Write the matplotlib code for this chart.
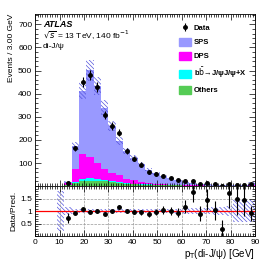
import matplotlib
matplotlib.use("Agg")
import matplotlib.pyplot as plt
import matplotlib.patches as mpatches
from matplotlib.ticker import MultipleLocator, FixedLocator
import numpy as np

# binning: 3 GeV bins from 0 to 90
edges = np.arange(0, 93, 3)
centers = edges[:-1] + 1.5

others = [0, 0, 0, 0.2, 3, 12, 22, 24, 22, 20, 17, 14, 11, 9, 7, 6, 5, 4, 3, 3,
          2, 2, 1.5, 1.2, 1, 1, 0.8, 0.7, 0.6, 1]
bbbar = [0, 0, 0, 0.1, 1, 6, 10, 11, 9, 7, 6, 4, 3, 2, 2, 1.5, 1, 1, 0.8, 0.6,
         0.5, 0.4, 0.3, 0.3, 0.2, 0.2, 0.2, 0.2, 0.1, 0.3]
dps = [0, 0, 0, 0.2, 10, 58, 106, 92, 68, 45, 35, 28, 18, 14, 10, 7, 5, 4, 3, 2.5,
       2, 1.5, 1.2, 1, 0.8, 0.7, 0.6, 0.5, 0.5, 1.5]
sps = [0, 0, 0, 0.1, 4, 98, 275, 375, 336, 268, 202, 150, 120, 98, 78, 55.5, 44, 34,
       26.2, 19.9, 14.5, 8.1, 7, 5.5, 5, 4.1, 3.4, 2.6, 2.8, 8.2]
data = [np.nan, np.nan, np.nan, np.nan, 13, 163, 450, 482, 430, 306, 260, 231, 152,
        118, 93, 61, 53, 45, 33, 24.5, 22.4, 21, 9, 11.7, 7.2, 1.6, 8.6, 6, 5.7, 10]
data_err = [0, 0, 0, 0, 3.6, 12.8, 21.2, 22, 20.7, 17.5, 16.1, 15.2, 12.3, 10.9,
            9.6, 7.8, 7.3, 6.7, 5.7, 5, 4.7, 4.6, 3, 3.4, 2.7, 2.3, 2.9, 2.6, 2.5, 3.2]
# relative uncertainty of the prediction
rel_unc = [0, 0, 0, 0.8, 0.15, 0.1, 0.09, 0.09, 0.09, 0.09, 0.09, 0.09, 0.09, 0.09,
           0.09, 0.09, 0.09, 0.09, 0.09, 0.1, 0.12, 0.13, 0.13, 0.13, 0.15, 0.15,
           0.2, 0.45, 0.45, 0.45]

others = np.array(others)
bbbar = np.array(bbbar)
dps = np.array(dps)
sps = np.array(sps)
data = np.array(data)
data_err = np.array(data_err)
rel_unc = np.array(rel_unc)
pred = others + bbbar + dps + sps

c_sps = '#9999ff'
c_dps = '#ff00ff'
c_bb = '#00ffff'
c_oth = '#55cc55'
c_hatch = '#5555dd'
hatch = '\\' * 8

plt.rcParams['font.family'] = ['Liberation Sans', 'DejaVu Sans']
plt.rcParams['hatch.linewidth'] = 0.5

fig = plt.figure(figsize=(2.74, 2.64), dpi=100)
ax1 = fig.add_axes([0.128, 0.295, 0.803, 0.652])
ax2 = fig.add_axes([0.128, 0.106, 0.803, 0.189], sharex=ax1)

# stacked prediction
bottom = np.zeros_like(pred)
for vals, col in [(others, c_oth), (bbbar, c_bb), (dps, c_dps), (sps, c_sps)]:
    ax1.bar(centers, vals, width=3, bottom=bottom, color=col, linewidth=0)
    bottom = bottom + vals
ax1.bar(centers, 2 * rel_unc * pred, width=3, bottom=pred * (1 - rel_unc),
        fill=False, hatch=hatch, edgecolor=c_hatch, linewidth=0)
ax1.errorbar(centers, data, yerr=data_err, fmt='o', color='black', ms=2.5,
             elinewidth=0.8, capsize=0)

ax1.set_xlim(0, 90)
ax1.set_ylim(0, 745)
ax1.yaxis.set_major_locator(FixedLocator([100, 200, 300, 400, 500, 600, 700]))
ax1.yaxis.set_minor_locator(MultipleLocator(20))
ax1.set_ylabel('Events / 3.00 GeV', fontsize=6, loc='top', labelpad=2)
plt.setp(ax1.get_xticklabels(), visible=False)

ax1.text(0.036, 0.94, 'ATLAS', transform=ax1.transAxes, fontsize=6.5,
         fontweight='bold', fontstyle='italic', va='center')
ax1.text(0.036, 0.878, r'$\sqrt{s}$ = 13 TeV, 140 fb$^{-1}$', transform=ax1.transAxes,
         fontsize=6, va='center')
ax1.text(0.036, 0.814, 'di-J/ψ', transform=ax1.transAxes, fontsize=6, va='center')

h_data = ax1.errorbar([], [], yerr=[], fmt='o', color='black', ms=2.5,
                      elinewidth=0.8, capsize=0)
handles = [h_data,
           mpatches.Patch(color=c_sps),
           mpatches.Patch(color=c_dps),
           mpatches.Patch(color=c_bb),
           mpatches.Patch(color=c_oth)]
labels = ['Data', 'SPS', 'DPS', r'b$\bar{\rm b}$→J/ψJ/ψ+X', 'Others']
leg = ax1.legend(handles, labels, loc='upper left', bbox_to_anchor=(0.655, 0.945),
                 frameon=False, fontsize=5.5, handlelength=1.6, handleheight=1.3,
                 labelspacing=0.7, handletextpad=0.3, borderpad=0, borderaxespad=0)
for t in leg.get_texts():
    t.set_fontweight('bold')

# ratio panel
ratio = data / pred
ratio_err = data_err / pred
ax2.bar(centers, 2 * rel_unc, width=3, bottom=1 - rel_unc, fill=False,
        hatch=hatch, edgecolor=c_hatch, linewidth=0)
ax2.axhline(1, color='red', lw=0.9)
ax2.errorbar(centers, ratio, yerr=ratio_err, fmt='o', color='black', ms=2.5,
             elinewidth=0.8, capsize=0)
ax2.set_ylim(0, 2)
ax2.yaxis.set_major_locator(FixedLocator([0.5, 1, 1.5]))
ax2.yaxis.set_minor_locator(MultipleLocator(0.1))
ax2.set_yticklabels(['0.5', '1', '1.5'])
ax2.grid(True, which='major', color='#999999', ls='--', lw=0.5)
ax2.set_ylabel('Data/Pred.', fontsize=6, labelpad=2)
ax2.set_xlabel(r'p$_{\rm T}$(di-J/ψ) [GeV]', fontsize=7, loc='right', labelpad=1)

ax2.xaxis.set_major_locator(MultipleLocator(10))
ax2.xaxis.set_minor_locator(MultipleLocator(1))

for ax in (ax1, ax2):
    ax.tick_params(which='both', direction='in', top=True, right=True,
                   labelsize=6, pad=2, width=0.5)
    ax.tick_params(which='major', length=4)
    ax.tick_params(which='minor', length=2)
    for s in ax.spines.values():
        s.set_linewidth(0.6)

fig.savefig('out.png', dpi=100)
